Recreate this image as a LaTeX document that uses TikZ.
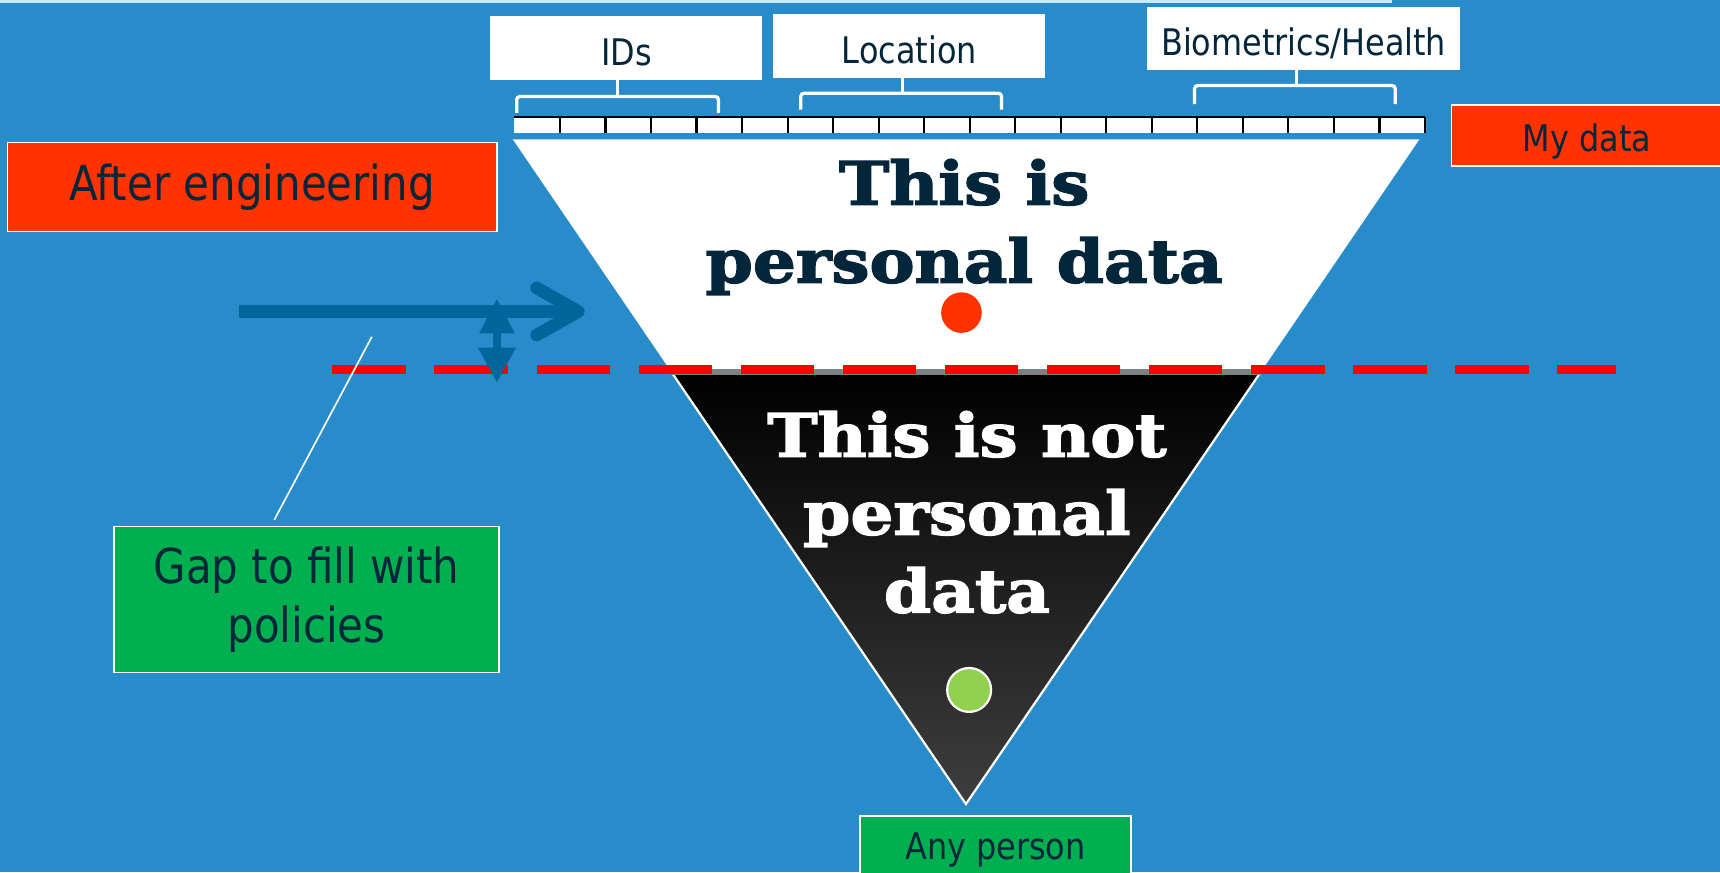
\documentclass[tikz,border=0pt]{standalone}
\usepackage{fontspec}
\setmainfont{DejaVu Sans}[FakeStretch=0.87]
\newfontfamily\slabfont{DejaVu Serif}[FakeStretch=1.13, BoldFeatures={FakeBold=2.5}]
\usetikzlibrary{arrows.meta}

\definecolor{bgblue}{RGB}{40,140,202}
\definecolor{topband}{RGB}{200,236,255}
\definecolor{engred}{RGB}{255,51,0}
\definecolor{polgreen}{RGB}{0,176,80}
\definecolor{navy}{RGB}{4,38,59}
\definecolor{arrowblue}{RGB}{0,102,156}
\definecolor{dotgreen}{RGB}{146,208,80}
\definecolor{funnelgray}{RGB}{62,62,62}

\newcommand{\smalltext}{\fontsize{9.5}{11}\selectfont}
\newcommand{\bigtext}{\fontsize{12.5}{15.4}\selectfont}
\newcommand{\slabtext}{\slabfont\bfseries\fontsize{15.5}{20.2}\selectfont}

\tikzset{
  catbox/.style={fill=white, text=navy, minimum width=2.48cm, minimum height=0.58cm, inner sep=0pt, text height=0.9em, text depth=0pt, font=\smalltext},
  notebox/.style={draw=white, line width=0.015cm, text=navy, inner sep=0pt, align=center},
  bracket/.style={white, line width=0.03cm, rounded corners=0.03cm},
}

\begin{document}
\begin{tikzpicture}[x=0.01cm, y=-0.01cm]
\useasboundingbox (0,0) rectangle (1568,795);
\clip (0,0) rectangle (1568,795);
\fill[bgblue] (0,0) rectangle (1568,795);
\fill[topband] (0,0) rectangle (1269,2.7);

% kinds of data
\node[catbox] (ids) at (571,44) {IDs};
\node[catbox] (loc) at (829,42) {Location};
\node[catbox, minimum width=2.85cm] (bio) at (1188.5,35) {Biometrics/Health};

\draw[bracket] (471,103) |- (655,88) -- (655,103);
\draw[bracket] (563,73) -- (563,88);
\draw[bracket] (730,100) |- (913,85) -- (913,100);
\draw[bracket] (823,71) -- (823,85);
\draw[bracket] (1089,95) |- (1272,78) -- (1272,95);
\draw[bracket] (1182,64) -- (1182,78);

% ruler
\fill[white] (469,107) rectangle (1299,121);
\draw[line width=0.02cm] (469,107) -- (1299,107);
\foreach \i in {1,...,20}
  \draw[line width=0.02cm] ({469+41.5*\i},107) -- ++(0,14);

% funnel
\coordinate (topL) at (467.5,127);
\coordinate (topR) at (1294,127);
\coordinate (midL) at (610.6,337);
\coordinate (midR) at (1150.8,337);
\coordinate (apex) at (880.6,733);
\fill[white] (topL) -- (topR) -- (midR) -- (midL) -- cycle;
\shade[top color=black, bottom color=funnelgray] (midL) -- (midR) -- (apex) -- cycle;
\draw[white, line width=0.02cm] (midL) -- (apex) -- (midR);
\draw[gray, line width=0.04cm] (612,339.5) -- (1149,339.5);

\node[text=navy, font=\slabtext, align=center] (pd) at (879,207) {This is\\personal data};
\node[text=white, font=\slabtext, align=center] (npd) at (881.5,467) {This is not\\personal\\data};

\node[circle, fill=engred, inner sep=0pt, minimum size=0.37cm] (mine) at (876.5,285) {};
\node[circle, fill=dotgreen, draw=white, line width=0.02cm, inner sep=0pt, minimum size=0.40cm] (anyone) at (883.5,629) {};

% threshold
\coordinate (cutL) at (303,337);
\coordinate (cutR) at (1473,337);
\draw[red, line width=0.08cm, dash pattern=on 0.67cm off 0.26cm] (cutL) -- (cutR);

% arrows
\coordinate (pushS) at (218,284);
\coordinate (pushE) at (533,284);
\draw[arrowblue, line width=0.115cm, -{Straight Barb[length=0.38cm, width=0.43cm, round]}] (pushS) -- (pushE);
\coordinate (gapT) at (453,272);
\coordinate (gapB) at (453,349);
\draw[arrowblue, line width=0.08cm, {Triangle[length=0.32cm, width=0.30cm]}-{Triangle[length=0.32cm, width=0.32cm]}] (gapT) -- (gapB);

% labels
\node[notebox, fill=engred, minimum width=4.46cm, minimum height=0.81cm, font=\bigtext] (after) at (230,170.5) {After engineering};
\node[notebox, fill=engred, minimum width=2.465cm, minimum height=0.556cm, text height=0.85em, text depth=0pt, font=\smalltext] (mydata) at (1446.7,123.5) {My data};
\node[notebox, fill=polgreen, minimum width=3.51cm, minimum height=1.33cm, font=\bigtext] (gap) at (279.5,546.5) {Gap to fill with\\policies};
\node[notebox, fill=polgreen, minimum width=2.47cm, minimum height=0.62cm, font=\smalltext] (anyperson) at (907.5,775) {Any person};

\coordinate (ptr) at (339,307);
\coordinate (ptrEnd) at (250,474);
\draw[white, line width=0.015cm] (ptr) -- (ptrEnd);
\end{tikzpicture}
\end{document}
